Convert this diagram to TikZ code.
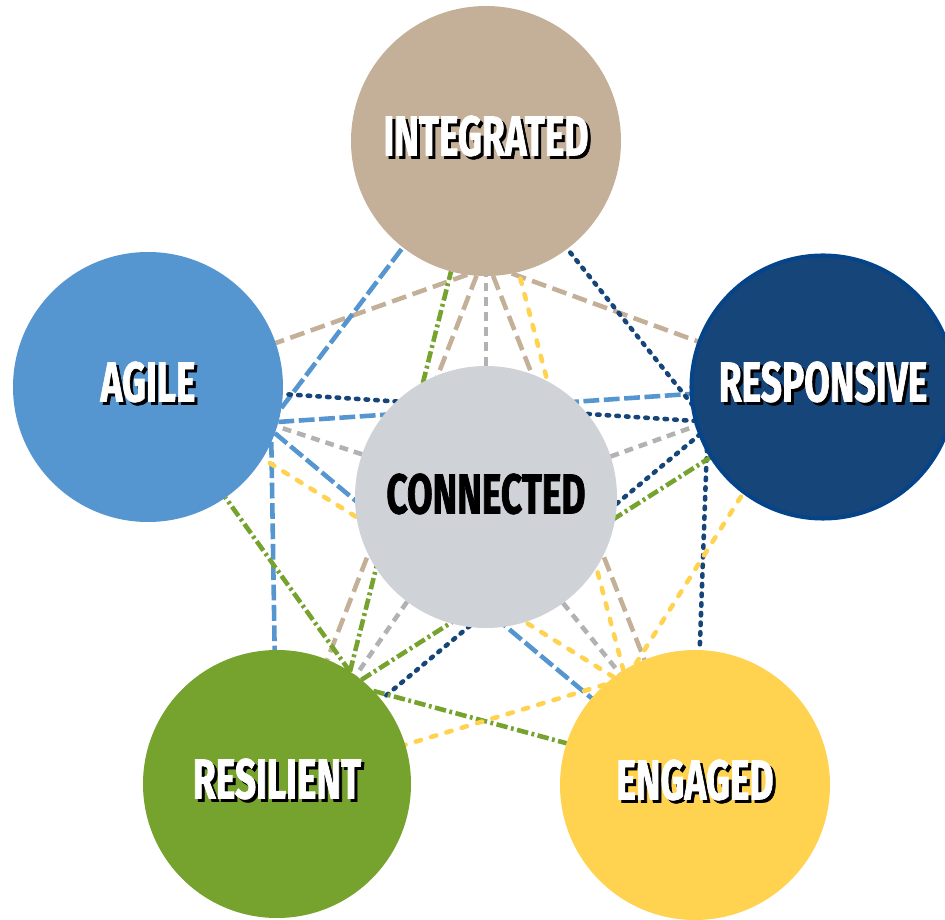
\documentclass[tikz,border=0pt]{standalone}
\usepackage{fontspec}
\newfontfamily\circfont[FakeStretch=0.66,FakeBold=1.2]{Fira Sans}
\definecolor{integratedtan}{RGB}{196,176,152}
\definecolor{agileblue}{RGB}{85,150,208}
\definecolor{responsivenavy}{RGB}{22,69,122}
\definecolor{responsiverim}{RGB}{6,68,138}
\definecolor{connectedgray}{RGB}{207,210,214}
\definecolor{resilientgreen}{RGB}{118,162,46}
\definecolor{engagedyellow}{RGB}{255,210,80}
\definecolor{linegray}{RGB}{178,178,178}
\pgfdeclarelayer{background}
\pgfsetlayers{background,main}
\newcommand{\shadowed}[1]{\raisebox{0.22cm}{\makebox[0pt][l]{\kern1.7pt\raisebox{-1.7pt}{\color{black}#1}}#1}}
\newcommand{\lifted}[1]{\raisebox{0.14cm}{#1}}
\tikzset{
  bubble/.style={circle,inner sep=0pt,outer sep=0pt,minimum size=5.4cm,text=white,
    font=\circfont\bfseries\fontsize{32}{32}\selectfont},
  tanline/.style={draw=integratedtan,line width=2.6pt,dash pattern=on 8.5pt off 3.8pt},
  grayline/.style={draw=linegray,line width=2.6pt,dash pattern=on 5pt off 3.5pt},
  blueline/.style={draw=agileblue,line width=2.6pt,dash pattern=on 9pt off 2.6pt},
  navyline/.style={draw=responsivenavy,line width=2.6pt,line cap=round,dash pattern=on 1.4pt off 4.1pt},
  greenline/.style={draw=resilientgreen,line width=2.6pt,dash pattern=on 6.5pt off 2pt on 1.6pt off 2pt},
  yellowline/.style={draw=engagedyellow,line width=2.6pt,line cap=round,dash pattern=on 3.1pt off 6pt}
}
\begin{document}
\begin{tikzpicture}
\useasboundingbox (0,0) rectangle (18.9,18.38);
\begin{scope}[every node/.style={bubble}]
  \node[fill=integratedtan] (integrated) at (9.72,15.56) {\shadowed{INTEGRATED}};
  \node[fill=agileblue] (agile) at (2.96,10.64) {\shadowed{AGILE}};
  \node[fill=responsivenavy,draw=responsiverim,line width=2.3pt,minimum size=5.26cm] (responsive) at (16.46,10.64) {\shadowed{RESPONSIVE}};
  \node[fill=connectedgray,text=black,minimum size=5.24cm] (connected) at (9.72,8.44) {\lifted{CONNECTED}};
  \node[fill=resilientgreen,minimum size=5.36cm] (resilient) at (5.54,2.70) {\shadowed{RESILIENT}};
  \node[fill=engagedyellow] (engaged) at (13.9,2.68) {\shadowed{ENGAGED}};
\end{scope}

\begin{pgfonlayer}{background}
\begin{scope}[every edge/.style={draw}]
  \path (integrated.262) edge[tanline] (agile.19);
  \path (integrated.281) edge[tanline] (responsive.160.3);
  \path (integrated.266.7) edge[tanline] (resilient.68);
  \path (integrated.273) edge[tanline] (engaged.112.6);
  \path (agile.-9) edge[blueline] (integrated.232.5);
  \path (agile.-15) edge[blueline] (responsive.183.4);
  \path (agile.-24.3) edge[blueline] (resilient.91.7);
  \path (agile.-20.7) edge[blueline] (engaged.140);
  \path (responsive.188.4) edge[navyline] (integrated.307);
  \path (responsive.195.1) edge[navyline] (agile.-3.4);
  \path (responsive.201) edge[navyline] (resilient.39.6);
  \path (responsive.208.2) edge[navyline] (engaged.88.7);
  \path (resilient.57) edge[greenline] (integrated.255);
  \path (resilient.57.8) edge[greenline] (agile.-55);
  \path (resilient.51) edge[greenline] (responsive.212.4);
  \path (resilient.44) edge[greenline] (engaged.162.6);
  \path (engaged.122.6) edge[yellowline] (integrated.284);
  \path (engaged.127.8) edge[yellowline] (agile.-32.4);
  \path (engaged.116.7) edge[yellowline] (responsive.233.7);
  \path (engaged.132.6) edge[yellowline] (resilient.17.5);
  \path (connected.90) edge[grayline] (integrated.270);
  \path (connected.161.6) edge[grayline] (agile.-17.6);
  \path (connected.18.4) edge[grayline] (responsive.197.9);
  \path (connected.233.6) edge[grayline] (resilient.54.4);
  \path (connected.-54) edge[grayline] (engaged.124);
\end{scope}
\end{pgfonlayer}
\end{tikzpicture}
\end{document}
